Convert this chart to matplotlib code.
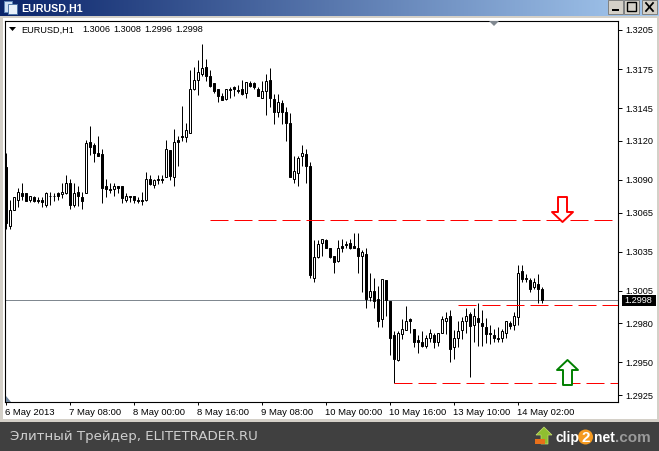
#!/usr/bin/env python3
# EURUSD H1 candles in a MetaTrader style window
import numpy as np
import matplotlib
matplotlib.use("Agg")
import matplotlib.pyplot as plt
from matplotlib.patches import Rectangle, Polygon, Circle
from matplotlib.path import Path
from matplotlib.transforms import blended_transform_factory, ScaledTranslation

plt.rcParams['font.family'] = ['Liberation Sans', 'DejaVu Sans']
plt.rcParams['font.size'] = 6.8
plt.rcParams['lines.scale_dashes'] = False

# Prices in points (price * 10000), one entry per hourly bar
opens = [13100, 13055, 13067, 13075, 13080, 13080, 13075, 13077, 13075, 13075,
         13071, 13078, 13078, 13080, 13079, 13080, 13088, 13071, 13081, 13077,
         13080, 13119, 13117, 13111, 13110, 13085, 13083, 13083, 13085, 13085,
         13075, 13078, 13078, 13075, 13075, 13075, 13091, 13086, 13091, 13091,
         13092, 13113, 13092, 13121, 13124, 13123, 13126, 13160, 13167, 13171,
         13177, 13170, 13164, 13160, 13154, 13152, 13160, 13161, 13159, 13160,
         13157, 13164, 13164, 13160, 13153, 13158, 13167, 13152, 13142, 13149,
         13142, 13134, 13091, 13095, 13108, 13110, 13101, 13015, 13031, 13042,
         13044, 13038, 13032, 13028, 13039, 13041, 13042, 13039, 13038, 13032,
         13033, 13000, 13005, 12999, 12983, 13013, 12997, 12971, 12952, 12972,
         12975, 12983, 12976, 12967, 12966, 12963, 12969, 12971, 12966, 12973,
         12982, 12986, 12962, 12969, 12975, 12982, 12987, 12979, 12984, 12980,
         12977, 12973, 12971, 12969, 12969, 12973, 12980, 12979, 12985, 13020,
         13015, 13013, 13008, 13010, 13006]
highs = [13111, 13075, 13077, 13084, 13088, 13080, 13078, 13078, 13077, 13077,
         13081, 13081, 13080, 13081, 13088, 13094, 13091, 13088, 13085, 13081,
         13121, 13131, 13118, 13124, 13114, 13091, 13088, 13088, 13085, 13085,
         13080, 13078, 13078, 13077, 13081, 13096, 13094, 13091, 13094, 13094,
         13121, 13113, 13129, 13124, 13147, 13134, 13174, 13177, 13182, 13194,
         13183, 13174, 13164, 13160, 13157, 13160, 13161, 13162, 13163, 13167,
         13165, 13166, 13165, 13161, 13166, 13171, 13176, 13156, 13156, 13151,
         13146, 13141, 13108, 13108, 13117, 13114, 13104, 13044, 13044, 13045,
         13045, 13038, 13032, 13044, 13045, 13043, 13045, 13049, 13049, 13036,
         13038, 13019, 13015, 13009, 13014, 13013, 12997, 12974, 12974, 12983,
         12993, 12984, 12976, 12971, 12974, 12971, 12976, 12973, 12973, 12986,
         12989, 12990, 12975, 12982, 12985, 12992, 12989, 12992, 12996, 12990,
         12984, 12979, 12976, 12977, 12976, 12982, 12982, 12989, 13025, 13025,
         13018, 13015, 13015, 13018, 13008]
lows = [13052, 13052, 13067, 13069, 13075, 13074, 13073, 13073, 13072, 13069,
        13069, 13071, 13074, 13075, 13076, 13079, 13068, 13069, 13070, 13068,
        13080, 13109, 13104, 13108, 13072, 13077, 13080, 13078, 13080, 13072,
        13073, 13073, 13072, 13072, 13071, 13074, 13086, 13084, 13087, 13088,
        13092, 13090, 13085, 13101, 13120, 13119, 13126, 13159, 13155, 13170,
        13166, 13161, 13157, 13150, 13151, 13151, 13153, 13154, 13157, 13155,
        13153, 13161, 13160, 13154, 13153, 13140, 13146, 13133, 13138, 13133,
        13120, 13092, 13088, 13085, 13101, 13088, 13015, 13012, 13030, 13032,
        13038, 13030, 13019, 13027, 13035, 13038, 13037, 13038, 13019, 13004,
        12992, 12997, 12992, 12977, 12977, 12986, 12956, 12934, 12951, 12968,
        12975, 12973, 12962, 12957, 12962, 12961, 12966, 12961, 12963, 12973,
        12972, 12950, 12953, 12962, 12968, 12973, 12939, 12966, 12963, 12963,
        12965, 12964, 12966, 12966, 12966, 12969, 12976, 12975, 12979, 13012,
        13012, 13004, 13006, 12996, 12996]
closes = [13057, 13067, 13077, 13081, 13078, 13074, 13078, 13074, 13074, 13073,
          13080, 13078, 13078, 13078, 13081, 13088, 13071, 13080, 13078, 13074,
          13118, 13115, 13111, 13108, 13084, 13083, 13082, 13085, 13084, 13076,
          13078, 13077, 13075, 13074, 13074, 13091, 13087, 13090, 13090, 13090,
          13114, 13093, 13119, 13119, 13123, 13128, 13160, 13167, 13173, 13176,
          13170, 13162, 13158, 13154, 13151, 13160, 13159, 13160, 13158, 13156,
          13165, 13162, 13161, 13154, 13158, 13166, 13153, 13142, 13150, 13142,
          13134, 13092, 13097, 13107, 13111, 13101, 13017, 13031, 13041, 13045,
          13038, 13031, 13027, 13038, 13038, 13040, 13038, 13038, 13032, 13035,
          12999, 13005, 12997, 12982, 13014, 12998, 12969, 12953, 12973, 12976,
          12982, 12982, 12966, 12966, 12963, 12969, 12973, 12966, 12973, 12983,
          12984, 12960, 12969, 12974, 12982, 12986, 12978, 12986, 12981, 12978,
          12972, 12972, 12969, 12968, 12974, 12982, 12978, 12986, 13019, 13014,
          13014, 13006, 13012, 13006, 12998]

price_ticks = [13205, 13175, 13145, 13120, 13090, 13065, 13035, 13005, 12980, 12950, 12925]
time_ticks = [0, 16, 32, 48, 64, 80, 96, 112, 128]
time_labels = ['6 May 2013', '7 May 08:00', '8 May 00:00', '8 May 16:00', '9 May 08:00',
               '10 May 00:00', '10 May 16:00', '13 May 10:00', '14 May 02:00']
header_labels = ['EURUSD,H1', '1.3006', '1.3008', '1.2996', '1.2998']

# levels drawn by hand on the chart (price in points, first bar)
bid_level = 12998
resistance, resistance_start = 13059, 51
target, target_start = 12994, 113
support, support_start = 12934, 97

W, H = 659, 452
fig = plt.figure(figsize=(W / 100, H / 100), dpi=100, facecolor='#d4d0c8')

# window chrome, in pixels
bg = fig.add_axes([0, 0, 1, 1], zorder=-1)
bg.axis('off')
grad = np.linspace(0, 1, 256).reshape(1, -1, 1)
left_c = np.array([10, 36, 106]) / 255
right_c = np.array([166, 202, 240]) / 255
bg.imshow(left_c + grad * (right_c - left_c), extent=[0, W, 17, 0], aspect='auto')
bg.set_xlim(0, W)
bg.set_ylim(H, 0)
bg.add_patch(Rectangle((3, 19), 654, 401, fc='white', ec='none'))
bg.add_patch(Rectangle((0, 423), W, 29, fc='#404040', ec='none'))

# title bar
bg.add_patch(Rectangle((4, 2), 8, 11, fc='#cfe0f5', ec='#5f86b8', lw=0.7))
bg.add_patch(Rectangle((8, 5), 9, 10, fc='#e8f0fa', ec='#4f76a8', lw=0.7))
bg.text(21, 8.5, 'EURUSD,H1', color='white', fontsize=7.7, fontweight='bold', va='center')
for bx in (608, 624, 642):
    bg.add_patch(Rectangle((bx, 1), 15, 14, fc='#d4d0c8', ec='#808080', lw=0.7))
bg.add_patch(Rectangle((612, 10), 7, 2, fc='black', ec='none'))
bg.add_patch(Rectangle((627, 3), 9, 9, fc='none', ec='black', lw=1.0))
bg.plot([646, 653], [4, 12], color='black', lw=1.3)
bg.plot([653, 646], [4, 12], color='black', lw=1.3)

# footer
bg.text(10, 437, 'Элитный Трейдер, ELITETRADER.RU', color='#cfcfcf', fontsize=9.65,
        family='DejaVu Sans', va='center')
bg.add_patch(Polygon([(544, 428), (552, 436), (548, 436), (548, 445), (541, 445), (541, 436), (536, 436)],
                     fc='#8fbf30', ec='#c8e070', lw=0.5))
bg.add_patch(Rectangle((535, 440), 10, 5, fc='#e8701a', ec='none'))
bg.add_patch(Circle((585.5, 438), 7.5, fc='#f59a20', ec='none'))
bg.text(556, 438, 'clip', color='white', fontsize=10, fontweight='bold', va='center')
bg.text(585.5, 438, '2', color='white', fontsize=11, fontweight='bold', va='center', ha='center')
bg.text(594, 438, 'net', color='white', fontsize=10, fontweight='bold', va='center')
bg.text(615, 438, '.com', color='#9a9a9a', fontsize=11, fontweight='bold', va='center')

# chart area, one bar every 4 pixels
ax = fig.add_axes([5 / W, (H - 403) / H, 613 / W, 381 / H])
ax.set_xlim(-0.25, 153)
ax.set_ylim(12919.7, 13211.9)
for s in ax.spines.values():
    s.set_linewidth(0.8)
    s.set_color('black')

idx = np.arange(len(opens))
o = np.array(opens)
c = np.array(closes)

ax.hlines(bid_level, -0.25, 153, color='#808890', lw=0.72, zorder=1, snap=True)

ax.vlines(idx, lows, highs, color='black', lw=0.72, zorder=2, snap=True)
up = c > o
ax.bar(idx, np.abs(c - o), bottom=np.minimum(o, c), width=0.5,
       color=np.where(up, 'white', 'black').tolist(), edgecolor='black', linewidth=0.72,
       zorder=3)

# dashed levels, 18 px on and 6 px off
for level, start in ((resistance, resistance_start), (target, target_start), (support, support_start)):
    ax.plot([start, 153], [level, level], color='#ff0000', lw=0.72, zorder=4,
            dashes=(12.96, 4.32), dash_capstyle='butt')

# hollow arrows
down_arrow = Path([(-4.5, 12.5), (4.5, 12.5), (4.5, -2.5), (10.5, -2.5), (0, -12.5), (-10.5, -2.5),
                   (-4.5, -2.5), (-4.5, 12.5)], closed=True)
up_arrow = Path([(-4.5, -12.5), (4.5, -12.5), (4.5, 2.5), (10.5, 2.5), (0, 12.5), (-10.5, 2.5),
                 (-4.5, 2.5), (-4.5, -12.5)], closed=True)
ax.plot([139], [13068], marker=down_arrow, ms=18, mfc='white', mec='#ff0000', mew=1.4, zorder=5, ls='none')
ax.plot([140.25], [12943], marker=up_arrow, ms=18, mfc='white', mec='#008000', mew=1.4, zorder=5, ls='none')

# axes
ax.yaxis.tick_right()
ax.set_yticks(price_ticks)
ax.set_yticklabels(['%.4f' % (p / 10000) for p in price_ticks], fontsize=6.6)
ax.tick_params(axis='y', length=2.8, width=0.7, pad=2.2)
ax.set_xticks(time_ticks)
ax.set_xticklabels(time_labels, ha='left')
ax.tick_params(axis='x', length=2.2, width=0.7, pad=1.6)

# nudge the labels by a pixel, the terminal does not centre them on the tick
up_1px = ScaledTranslation(0, 1 / 100, fig.dpi_scale_trans)
left_1px = ScaledTranslation(-1 / 100, 0, fig.dpi_scale_trans)
for lbl in ax.get_yticklabels():
    lbl.set_transform(lbl.get_transform() + up_1px)
for lbl in ax.get_xticklabels():
    lbl.set_transform(lbl.get_transform() + left_1px)

# header line and markers that sit on the frame
for hx, label in zip((21, 82, 113, 144, 175), header_labels):
    ax.text(hx, 30, label, fontsize=6.6, transform=bg.transData, va='center', zorder=6)
ax.add_patch(Polygon([(9, 28), (16, 28), (12.5, 32)], transform=bg.transData, fc='black', ec='none', zorder=6))
ax.add_patch(Polygon([(489, 22), (499, 22), (494, 27)], transform=bg.transData, fc='#808890', ec='none', zorder=6))
ax.add_patch(Polygon([(6, 397), (6, 403), (11, 403)], transform=bg.transData, fc='#6d8299', ec='none', zorder=6))

# current price box on the scale
trans = blended_transform_factory(bg.transData, ax.transData)
bg.add_patch(Rectangle((622, 296), 34, 11, fc='black', ec='none'))
ax.text(624, bid_level, '%.4f' % (bid_level / 10000), color='white', fontsize=6.6, transform=trans,
        va='center', clip_on=False, zorder=6)

fig.savefig('out.png', dpi=100, facecolor=fig.get_facecolor())
